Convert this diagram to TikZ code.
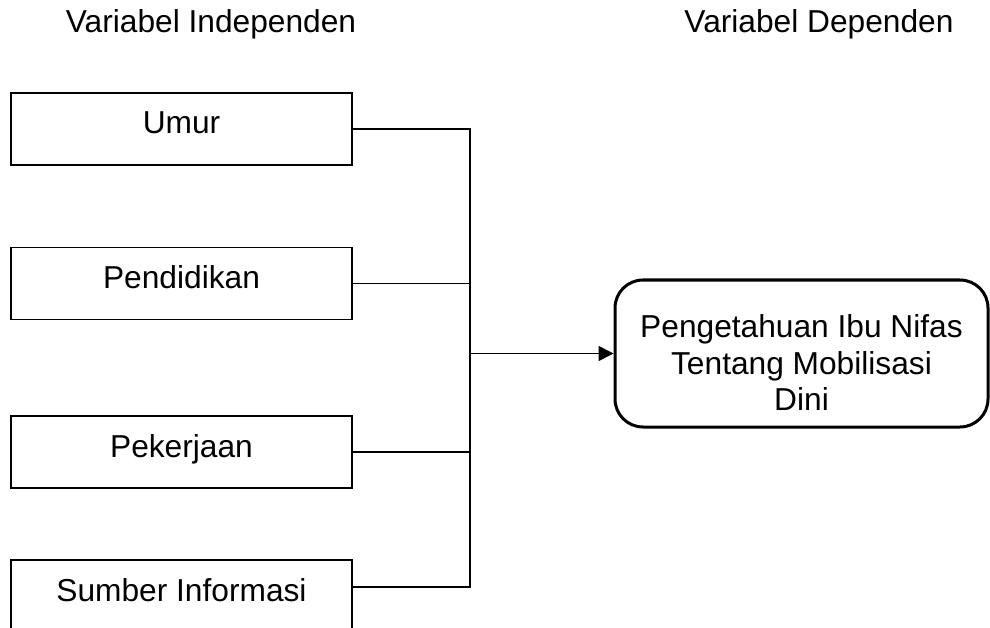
\documentclass[tikz,border=0pt]{standalone}
\usepackage{fontspec}
\setmainfont{Liberation Sans}
\usetikzlibrary{arrows.meta}

\begin{document}
\begin{tikzpicture}[x=1pt,y=-1pt,
		font=\fontsize{31.7}{36.5}\selectfont,
		title/.style={text height=23pt, text depth=13pt, inner sep=0pt},
		inbox/.style={draw, line width=1.6pt, minimum width=341pt, minimum height=72pt, text height=23pt, text depth=13pt, inner sep=0pt},
		outbox/.style={draw, line width=3pt, rounded corners=28pt, minimum width=373pt, minimum height=147pt, inner sep=0pt},
		conn/.style={line width=1.6pt}]
				\clip (0,0) rectangle (990,628);
				\node[title] (indep) at (211,28) {Variabel Independen};
				\node[title] (dep) at (819,28) {Variabel Dependen};
				\node[inbox] (umur) at (181.5,129) {Umur};
				\node[inbox] (pendidikan) at (181.5,283.5) {Pendidikan};
				\node[inbox] (pekerjaan) at (181.5,452) {Pekerjaan};
				\node[inbox] (sumber) at (181.5,596) {Sumber Informasi};
				\node[outbox] (peng) at (801.5,353.5) {};
				\node[align=center, inner sep=0pt] (pengtext) at (801.5,363) {Pengetahuan Ibu Nifas\\Tentang Mobilisasi\\Dini};
				\coordinate (tumur) at (470,129);
				\coordinate (tsumber) at (470,587);
				\draw[conn] (umur.east) -- (tumur) -- (tsumber) -- (tsumber -| sumber.east);
				\draw[conn] (pendidikan.east) -- (pendidikan.east -| tumur);
				\draw[conn] (pekerjaan.east) -- (pekerjaan.east -| tumur);
				\draw[conn,-{Triangle[length=15pt,width=15pt]}] (peng.west -| tumur) -- (peng.west);
			\end{tikzpicture}
\end{document}
